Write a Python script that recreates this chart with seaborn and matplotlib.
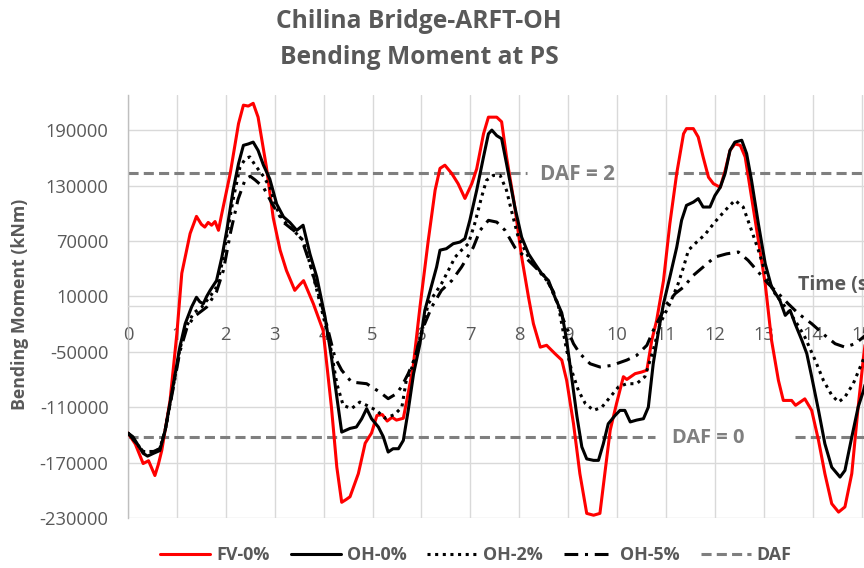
import numpy as np
import pandas as pd
import seaborn as sns
import matplotlib.pyplot as plt

# ---- data: time (s) and bending moment (kNm) ----
fv0_t = [0.00, 0.15, 0.31, 0.42, 0.55, 0.62, 0.69, 0.86, 1.00, 1.10, 1.27, 1.40, 1.50, 1.57, 1.64,
         1.71, 1.78, 1.85, 1.92, 2.09, 2.26, 2.36, 2.46, 2.56, 2.66, 2.83, 2.97, 3.11, 3.24, 3.41,
         3.50, 3.59, 3.79, 3.99, 4.16, 4.27, 4.37, 4.46, 4.54, 4.71, 4.85, 4.98, 5.09, 5.20, 5.30,
         5.40, 5.49, 5.63, 5.70, 5.83, 5.97, 6.14, 6.28, 6.38, 6.48, 6.62, 6.75, 6.89, 7.03, 7.13,
         7.27, 7.37, 7.54, 7.64, 7.74, 7.91, 8.05, 8.19, 8.29, 8.43, 8.56, 8.73, 8.87, 8.97, 9.11,
         9.24, 9.38, 9.52, 9.65, 9.75, 9.86, 9.99, 10.13, 10.20, 10.37, 10.50, 10.61, 10.71, 10.81,
         10.95, 11.08, 11.22, 11.36, 11.42, 11.56, 11.66, 11.76, 11.87, 11.97, 12.11, 12.21, 12.31,
         12.41, 12.52, 12.62, 12.75, 12.89, 13.03, 13.16, 13.30, 13.40, 13.57, 13.65, 13.84, 13.98,
         14.12, 14.25, 14.39, 14.53, 14.66, 14.80, 14.93, 15.04, 15.10]
fv0_v = [-138000, -150000, -171000, -168000, -184000, -172000, -157000, -102700, -30000, 35000,
         78000, 96600, 88000, 85000, 90000, 87000, 91000, 81500, 100000, 143000, 197000, 217000,
         216000, 219000, 204000, 150000, 95000, 60000, 38000, 16500, 22000, 27000, 2000, -27000,
         -110000, -175000, -213000, -210000, -207000, -182000, -149000, -138000, -119000, -118000,
         -125000, -121000, -124000, -122000, -103000, -66500, -1600, 70600, 125000, 148600, 152000,
         143000, 132000, 116000, 132000, 148000, 186000, 204000, 204000, 199000, 161000, 106700,
         52500, 9000, -19600, -45000, -43000, -52000, -59000, -81000, -128000, -182000, -225000,
         -227000, -225000, -182000, -135000, -106000, -77000, -80000, -73700, -72000, -70000,
         -37700, -16000, 27000, 88700, 143000, 186000, 191600, 191600, 182500, 161000, 139000,
         132000, 128000, 146000, 168000, 175000, 173500, 161000, 117500, 70600, 23700, -37700,
         -81000, -102700, -102700, -108000, -101000, -113500, -146000, -182000, -214500, -223600,
         -218000, -182000, -110000, -56000, -30000]

oh0_t = [0.00, 0.10, 0.31, 0.40, 0.52, 0.65, 0.76, 0.93, 1.06, 1.17, 1.30, 1.40, 1.47, 1.54, 1.61,
         1.68, 1.81, 1.92, 2.02, 2.15, 2.26, 2.36, 2.46, 2.56, 2.66, 2.77, 2.90, 3.04, 3.18, 3.31,
         3.45, 3.58, 3.72, 3.86, 4.03, 4.16, 4.27, 4.37, 4.54, 4.67, 4.78, 4.88, 4.98, 5.12, 5.22,
         5.32, 5.42, 5.53, 5.63, 5.73, 5.84, 5.97, 6.07, 6.18, 6.31, 6.38, 6.51, 6.65, 6.79, 6.89,
         6.99, 7.13, 7.27, 7.37, 7.44, 7.54, 7.64, 7.74, 7.91, 8.05, 8.19, 8.32, 8.46, 8.60, 8.73,
         8.87, 8.97, 9.07, 9.18, 9.28, 9.38, 9.52, 9.62, 9.72, 9.82, 9.96, 10.06, 10.16, 10.27,
         10.40, 10.54, 10.64, 10.74, 10.85, 10.95, 11.08, 11.22, 11.32, 11.42, 11.56, 11.66, 11.76,
         11.90, 12.00, 12.11, 12.21, 12.31, 12.41, 12.55, 12.65, 12.75, 12.89, 13.03, 13.16, 13.33,
         13.44, 13.54, 13.64, 13.78, 13.88, 13.98, 14.12, 14.25, 14.39, 14.56, 14.66, 14.80, 14.93,
         15.04, 15.10]
oh0_v = [-138000, -142000, -160000, -163000, -160000, -157000, -135000, -84600, -45000, -19600,
         -1600, 9000, 4000, 2000, 10000, 16500, 27000, 52500, 81500, 125000, 153700, 173500,
         175000, 177000, 168000, 152000, 137000, 110000, 96000, 90000, 81500, 87000, 56000, 31000,
         -12500, -56000, -99000, -137000, -133000, -131500, -122500, -111600, -122500, -131500,
         -142000, -158600, -155000, -155000, -146000, -113500, -73700, -41300, -5200, 16500, 41700,
         60000, 61600, 67000, 68800, 72500, 92300, 124800, 161000, 186000, 190000, 184000, 180700,
         153700, 106700, 74000, 56000, 45400, 34500, 27000, 9000, -8000, -37700, -77000, -120000,
         -153000, -166000, -167600, -167600, -149600, -128000, -119000, -113500, -113500, -126000,
         -124000, -122500, -110000, -63000, -27000, 2000, 30900, 63000, 92300, 108500, 112000,
         115800, 106700, 106700, 119000, 128000, 143000, 168000, 177000, 179000, 164500, 135600,
         88700, 45400, 20000, 5600, -10600, -5200, -19600, -37700, -52000, -77000, -113500, -149600,
         -175000, -185700, -178500, -142400, -110000, -92000, -80000]

oh2_t = [0.00, 0.31, 0.52, 0.65, 0.76, 0.93, 1.06, 1.20, 1.34, 1.50, 1.68, 1.81, 1.92, 2.02, 2.15,
         2.29, 2.40, 2.49, 2.60, 2.77, 2.90, 3.04, 3.18, 3.38, 3.58, 3.75, 3.93, 4.13, 4.27, 4.40,
         4.57, 4.74, 4.88, 5.08, 5.26, 5.45, 5.60, 5.69, 5.84, 6.00, 6.14, 6.41, 6.55, 6.69, 6.82,
         6.96, 7.09, 7.23, 7.33, 7.47, 7.61, 7.74, 7.84, 7.98, 8.19, 8.39, 8.60, 8.80, 8.97, 9.07,
         9.21, 9.35, 9.52, 9.69, 9.86, 10.03, 10.20, 10.40, 10.57, 10.74, 10.88, 11.08, 11.25, 11.36,
         11.46, 11.63, 11.80, 12.00, 12.21, 12.41, 12.58, 12.75, 12.89, 13.06, 13.23, 13.44, 13.64,
         13.84, 14.05, 14.22, 14.39, 14.53, 14.66, 14.83, 15.00, 15.10]
oh2_v = [-138000, -158000, -158000, -155000, -135000, -86000, -47000, -22000, -8000, -2000, 10000,
         20000, 45000, 75000, 115000, 150000, 159000, 161000, 152000, 140000, 128000, 105000, 92000,
         81500, 70600, 40000, 2000, -41300, -84600, -108000, -111600, -104500, -108000, -113500,
         -122000, -118000, -110000, -81000, -63000, -30000, 2000, 23700, 38000, 52500, 60000, 67000,
         88700, 117500, 135600, 141000, 141000, 124800, 103000, 74000, 52500, 38000, 25000, 0,
         -48500, -70000, -92000, -106000, -113500, -110000, -99000, -88000, -84600, -84600, -77000,
         -48500, -19600, 2000, 23700, 41700, 60000, 68800, 77000, 90400, 103000, 114000, 106700,
         81500, 60000, 31000, 13000, -1600, -16000, -34000, -59000, -81000, -97000, -104500, -99000,
         -84600, -63000, -50000]

oh5_t = [0.00, 0.31, 0.52, 0.65, 0.76, 0.93, 1.06, 1.20, 1.34, 1.61, 1.81, 1.95, 2.10, 2.25, 2.40,
         2.50, 2.60, 2.77, 2.95, 3.18, 3.42, 3.55, 3.72, 3.99, 4.23, 4.37, 4.57, 4.88, 5.15, 5.32,
         5.49, 5.59, 5.73, 5.87, 6.01, 6.21, 6.41, 6.62, 6.82, 7.06, 7.20, 7.37, 7.54, 7.71, 7.91,
         8.12, 8.32, 8.50, 8.70, 8.90, 9.11, 9.24, 9.45, 9.65, 9.89, 10.20, 10.40, 10.61, 10.74,
         11.02, 11.19, 11.36, 11.56, 11.76, 12.00, 12.24, 12.48, 12.68, 12.89, 13.09, 13.30, 13.50,
         13.71, 13.98, 14.25, 14.46, 14.66, 14.87, 15.04, 15.10]
oh5_v = [-138000, -158000, -158000, -155000, -135000, -88000, -50000, -25000, -12500, -1600, 15000,
         38000, 80000, 115000, 137000, 140000, 136000, 128000, 110000, 90000, 80000, 72000, 45400,
         -5200, -56000, -70000, -82800, -84600, -93700, -100800, -95400, -88000, -73700, -56000,
         -27000, -1600, 16500, 27000, 41700, 63000, 81500, 92300, 90400, 81500, 63000, 52500, 42000,
         33000, 15000, -15000, -41300, -52000, -63000, -66500, -64800, -59000, -54000, -43000,
         -27000, 2000, 13000, 20000, 32700, 41700, 52500, 56000, 58000, 49000, 36300, 23700, 13000,
         2000, -8800, -19600, -32300, -41300, -45000, -41300, -34000, -31000]

# dynamic amplification limits and the time spans left open for their labels
daf2_value = 144000
daf0_value = -142000
daf2_t = [0.0, 8.16, np.nan, 11.04, 15.1]
daf0_t = [0.0, 10.78, np.nan, 13.64, 15.1]

x_ticks = list(range(0, 16))
y_ticks = [190000, 130000, 70000, 10000, -50000, -110000, -170000, -230000]

# ---- style ----
sns.set_theme(style="white")
plt.rcParams["font.family"] = ["Open Sans", "DejaVu Sans"]
TXT = "#595959"
GRID = "#d9d9d9"

fig = plt.figure(figsize=(8.64, 5.68), dpi=100)
ax = fig.add_axes([128 / 864, 1 - 518 / 568, 1 - 128 / 864, (518 - 95) / 568])
renderer = fig.canvas.get_renderer()


def fit_width(txt, target_px, vertical=False):
    """Scale a text's font size so that its rendered extent is target_px long."""
    for _ in range(4):
        bb = txt.get_window_extent(renderer)
        cur = bb.height if vertical else bb.width
        txt.set_fontsize(txt.get_fontsize() * target_px / cur)
    return txt.get_fontsize()


def size_for(sample, target_px, weight="normal"):
    probe = fig.text(0, 0, sample, fontsize=12, fontweight=weight)
    size = fit_width(probe, target_px)
    probe.remove()
    return size


LW = 2.2
series = [
    ("FV-0%", fv0_t, fv0_v, dict(color="#ff0000", linestyle="-")),
    ("OH-0%", oh0_t, oh0_v, dict(color="black", linestyle="-")),
    ("OH-2%", oh2_t, oh2_v, dict(color="black", linestyle=(0, (1.0, 1.5)))),
    ("OH-5%", oh5_t, oh5_v, dict(color="black", linestyle=(0, (4.5, 2.2, 1.0, 2.2)))),
]
for name, t, v, kw in series:
    df = pd.DataFrame({"Time (s)": t, "Bending Moment (kNm)": v})
    sns.lineplot(data=df, x="Time (s)", y="Bending Moment (kNm)", ax=ax, lw=LW,
                 sort=False, estimator=None, label=name, zorder=3, **kw)

daf_style = dict(color="#7f7f7f", lw=LW, linestyle=(0, (3.3, 1.7)), zorder=2.5)
ax.plot(daf2_t, [daf2_value] * len(daf2_t), label="DAF", **daf_style)
ax.plot(daf0_t, [daf0_value] * len(daf0_t), **daf_style)

# ---- axes ----
tick_size = size_for("190000", 63)
ax.set_xlim(0, 15.05)
ax.set_ylim(-230000, 228000)
ax.set_xticks(x_ticks)
ax.set_xticklabels([str(x) for x in x_ticks])
ax.set_yticks(y_ticks)
ax.set_yticklabels([str(y) for y in y_ticks])
ax.set_xlabel("")
ax.set_ylabel("")
ax.grid(True, color=GRID, lw=1)
ax.set_axisbelow(True)
for s in ("top", "right"):
    ax.spines[s].set_visible(False)
ax.spines["left"].set_color("#bfbfbf")
ax.spines["left"].set_linewidth(1)
ax.spines["bottom"].set_position(("data", 0))
ax.spines["bottom"].set_color(GRID)
ax.spines["bottom"].set_linewidth(1)
ax.tick_params(axis="x", length=0, pad=15, labelsize=tick_size, labelcolor=TXT)
ax.tick_params(axis="y", length=0, pad=14, labelsize=tick_size, labelcolor=TXT)

# ---- annotations ----
t2 = ax.text(8.43, daf2_value - 2500, "DAF = 2", fontsize=13, fontweight="bold",
             color="#7f7f7f", va="center", ha="left")
fit_width(t2, 75)
t0 = ax.text(11.12, daf0_value - 1500, "DAF = 0", fontsize=13, fontweight="bold",
             color="#7f7f7f", va="center", ha="left")
fit_width(t0, 72)
tt = ax.text(13.70, 21900, "Time (s)", fontsize=11.5, fontweight="bold",
             color=TXT, va="center", ha="left")
fit_width(tt, 76)

title1 = fig.text(419 / 864, 1 - 22 / 568, "Chilina Bridge-ARFT-OH", fontsize=16,
                  fontweight="bold", color=TXT, ha="center", va="center")
fit_width(title1, 285)
fig.text(419 / 864, 1 - 57 / 568, "Bending Moment at PS", fontsize=title1.get_fontsize(),
         fontweight="bold", color=TXT, ha="center", va="center")
ylab = fig.text(20 / 864, 1 - 304 / 568, "Bending Moment (kNm)", fontsize=11.5,
                fontweight="bold", color=TXT, rotation=90, ha="center", va="center")
fit_width(ylab, 212, vertical=True)

# ---- legend ----
handles, labels = ax.get_legend_handles_labels()
if ax.get_legend() is not None:
    ax.get_legend().remove()
leg_size = size_for("OH-0%", 60, weight="bold")
leg_px = leg_size * 100 / 72
fig.legend(handles, labels, loc="center", bbox_to_anchor=(476 / 864, 1 - 555 / 568),
           ncol=5, frameon=False, handlelength=50 / leg_px, handletextpad=6 / leg_px,
           columnspacing=21 / leg_px, borderpad=0.2,
           prop={"weight": "bold", "size": leg_size}, labelcolor=TXT)

fig.savefig("out.png", dpi=100, facecolor="white")
